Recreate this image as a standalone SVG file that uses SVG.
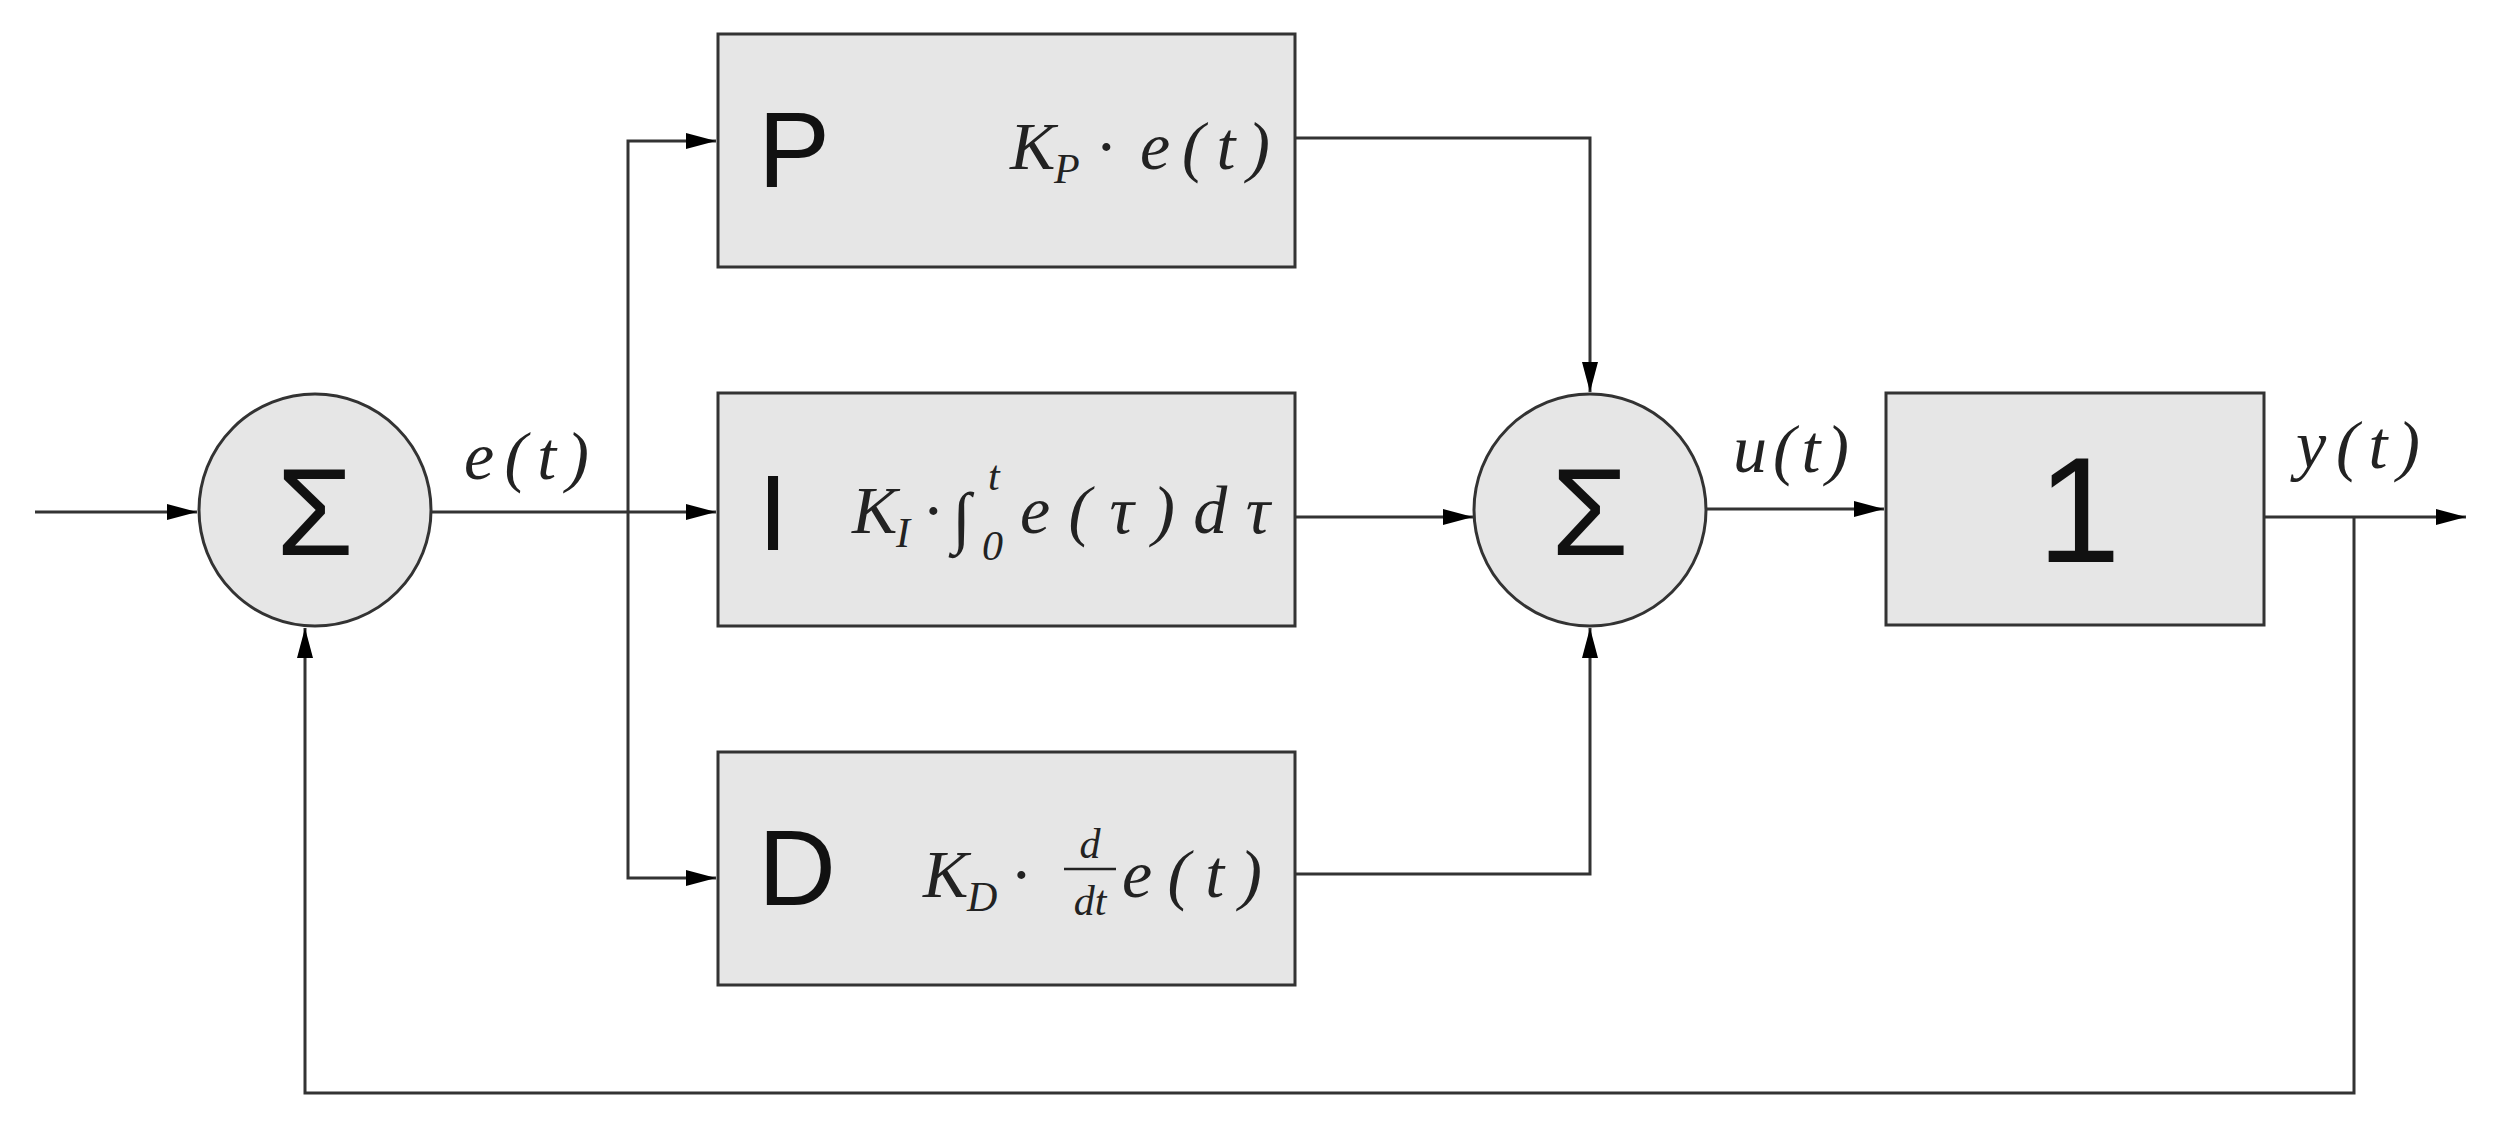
<svg xmlns="http://www.w3.org/2000/svg" width="2512" height="1130" viewBox="0 0 2512 1130">
<defs>
<marker id="ah" markerWidth="30" markerHeight="16" refX="30" refY="8" orient="auto" markerUnits="userSpaceOnUse"><path d="M0,0 L30,8 L0,16 Z" fill="#000"/></marker>
<style>
.blk{fill:#e6e6e6;stroke:#333;stroke-width:3}
.ln{fill:none;stroke:#333;stroke-width:3}
.big{font-family:"Liberation Sans",Arial,sans-serif;fill:#111}
.m{font-family:"Liberation Serif","DejaVu Serif",serif;font-style:italic;font-size:68px;fill:#222}
.s{font-family:"Liberation Serif","DejaVu Serif",serif;font-style:italic;font-size:42px;fill:#222}
.n{font-family:"Liberation Serif","DejaVu Serif",serif;font-size:68px;fill:#222}
</style>
</defs>
<rect width="2512" height="1130" fill="#fff"/>
<g id="connectors">
<path class="ln" d="M35,512 H197" marker-end="url(#ah)"/>
<path class="ln" d="M431,512 H716" marker-end="url(#ah)"/>
<path class="ln" d="M628,512 V141 H716" marker-end="url(#ah)"/>
<path class="ln" d="M628,512 V878 H716" marker-end="url(#ah)"/>
<path class="ln" d="M1295,138 H1590 V392" marker-end="url(#ah)"/>
<path class="ln" d="M1295,517 H1473" marker-end="url(#ah)"/>
<path class="ln" d="M1295,874 H1590 V628" marker-end="url(#ah)"/>
<path class="ln" d="M1705,509 H1884" marker-end="url(#ah)"/>
<path class="ln" d="M2264,517 H2466" marker-end="url(#ah)"/>
<path class="ln" d="M2354,517 V1093 H305 V628" marker-end="url(#ah)"/>
</g>
<g id="sum1"><circle class="blk" cx="315" cy="510" r="116"/><text class="big" x="315" y="555" font-size="125" text-anchor="middle">Σ</text></g>
<g id="sum2"><circle class="blk" cx="1590" cy="510" r="116"/><text class="big" x="1590" y="555" font-size="125" text-anchor="middle">Σ</text></g>
<g id="P"><rect class="blk" x="718" y="34" width="577" height="233"/>
<text class="big" x="758" y="187" font-size="108">P</text>
<text class="m" x="1010" y="169">K</text><text class="s" x="1054" y="183">P</text>
<text class="n" x="1095" y="169">·</text>
<text class="m" x="1140" y="169" textLength="130">e(t)</text></g>
<g id="I"><rect class="blk" x="718" y="393" width="577" height="233"/>
<text class="big" x="758" y="550" font-size="108">I</text>
<text class="m" x="852" y="533">K</text><text class="s" x="896" y="547">I</text>
<text class="n" x="922" y="533">·</text>
<text class="n" x="952" y="540" font-size="80">∫</text>
<text class="s" x="988" y="490">t</text>
<text class="s" x="982" y="560" font-style="normal">0</text>
<text class="m" x="1020" y="533" textLength="250">e(τ)dτ</text></g>
<g id="D"><rect class="blk" x="718" y="752" width="577" height="233"/>
<text class="big" x="758" y="905" font-size="108">D</text>
<text class="m" x="923" y="897">K</text><text class="s" x="967" y="911">D</text>
<text class="n" x="1010" y="897">·</text>
<text class="s" x="1090" y="858" text-anchor="middle">d</text>
<line x1="1064" y1="869" x2="1116" y2="869" stroke="#222" stroke-width="2.5"/>
<text class="s" x="1090" y="915" text-anchor="middle">dt</text>
<text class="m" x="1122" y="897" textLength="140">e(t)</text></g>
<g id="plant"><rect class="blk" x="1886" y="393" width="378" height="232"/><text class="big" x="2079" y="562" font-size="150" text-anchor="middle">1</text></g>
<g id="labels">
<text class="m" x="464" y="479" textLength="125">e(t)</text>
<text class="m" x="1733" y="472" textLength="116">u(t)</text>
<text class="m" x="2296" y="468" textLength="124">y(t)</text>
</g>
</svg>
